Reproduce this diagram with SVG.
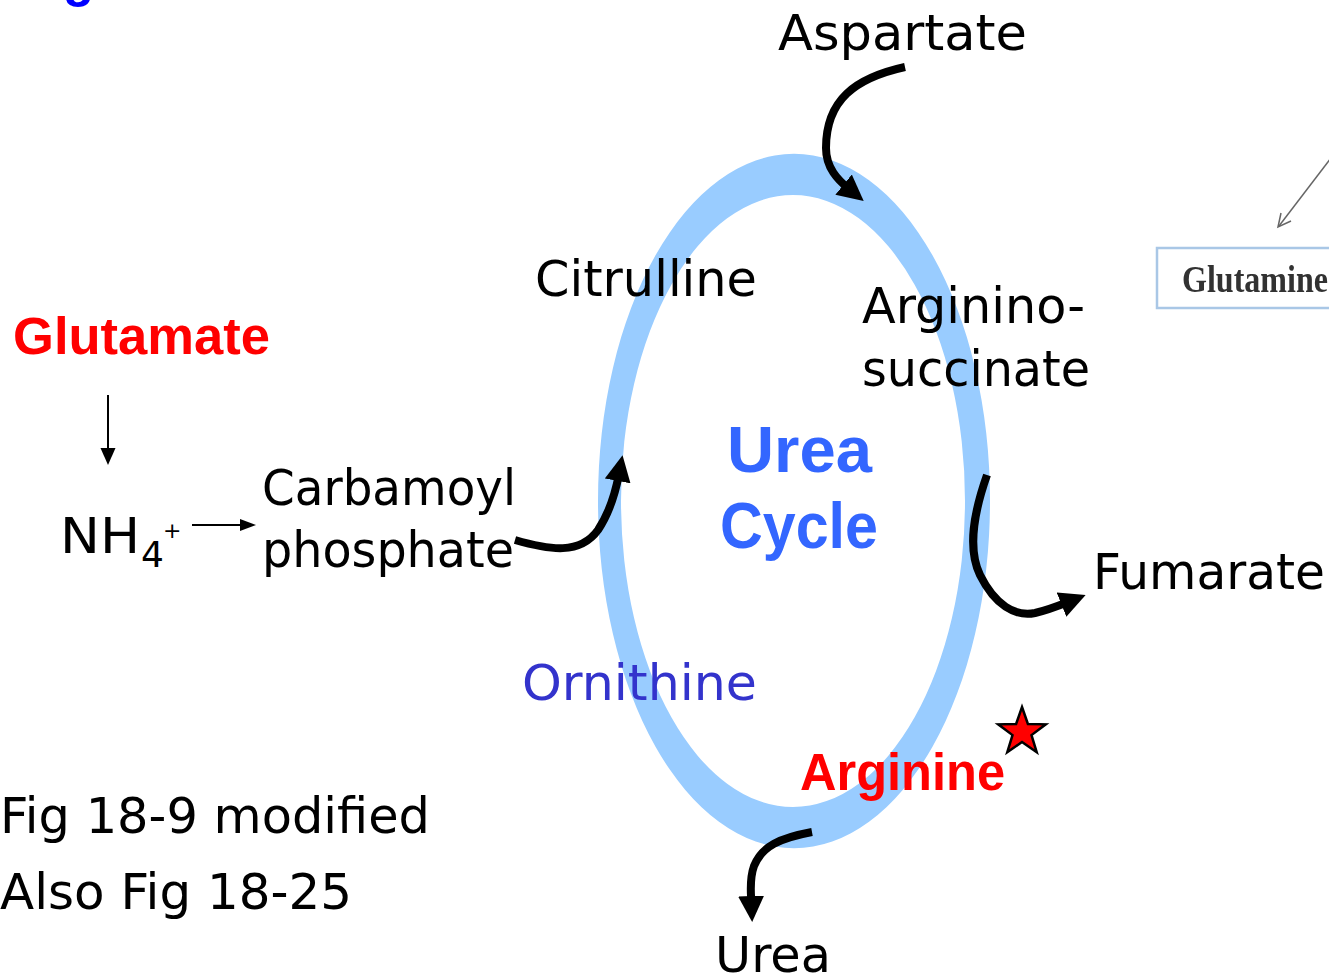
<svg xmlns="http://www.w3.org/2000/svg" width="1329" height="978" viewBox="0 0 1329 978">
  <style>
    .lbl { font-family: "DejaVu Sans", "Liberation Sans", sans-serif; font-size: 50px; fill: #000; }
    .bold { font-family: "Liberation Sans", "DejaVu Sans", sans-serif; font-weight: bold; font-size: 51px; }
    .red { fill: #ff0000; }
    .blue { fill: #3366ff; }
    .navy { fill: #3333cc; }
    .thick { fill: none; stroke: #000; stroke-width: 8; marker-end: url(#headBig); }
    .thin { fill: none; stroke: #000; stroke-width: 2; }
  </style>
  <defs>
    <marker id="headBig" viewBox="0 0 26 26" refX="7" refY="13" markerWidth="26" markerHeight="26" markerUnits="userSpaceOnUse" orient="auto">
      <path d="M0,0 L26,13 L0,26 z" fill="#000"/>
    </marker>
    <filter id="soft" x="-5%" y="-5%" width="110%" height="110%">
      <feGaussianBlur stdDeviation="0.6"/>
    </filter>
  </defs>

  <rect width="1329" height="978" fill="#fff"/>

  <!-- heading fragment along the top edge -->
  <text x="63" y="-4" class="bold" fill="#0000ff">g</text>

  <!-- urea cycle ring -->
  <g id="ring">
    <path fill="#99ccff" fill-rule="evenodd"
      d="M598,501 A196,347 0 1,0 990,501 A196,347 0 1,0 598,501 Z
         M621,501 A172,306 0 1,0 965,501 A172,306 0 1,0 621,501 Z"/>
  </g>

  <!-- connectors -->
  <g id="connectors">
    <path class="thick" d="M905,67 C855,78 826,100 826,148 C826,168 838,180 849,189"/>
    <path class="thick" d="M515,540 C550,550 580,555 598,530 C608,515 615,495 619,474"/>
    <path class="thick" d="M987,475 C974,512 967,548 980,575 C995,605 1015,617 1035,613 C1048,610 1058,606 1068,602"/>
    <path class="thick" d="M812,832 C780,838 762,846 754,866 C749,880 751,893 751.4,903"/>
    <line class="thin" x1="108" y1="395" x2="108" y2="450"/>
    <polygon points="100.5,448 115.5,448 108,465" fill="#000"/>
    <line class="thin" x1="192" y1="525" x2="242" y2="525"/>
    <polygon points="240,519 240,531 256,525" fill="#000"/>
  </g>

  <g id="aspartate"><text class="lbl" x="778" y="50" textLength="249" lengthAdjust="spacingAndGlyphs">Aspartate</text></g>
  <g id="citrulline"><text class="lbl" x="535" y="296" textLength="222" lengthAdjust="spacingAndGlyphs">Citrulline</text></g>
  <g id="argininosuccinate">
    <text class="lbl" x="862" y="323" textLength="223" lengthAdjust="spacingAndGlyphs">Arginino-</text>
    <text class="lbl" x="862" y="386" textLength="228" lengthAdjust="spacingAndGlyphs">succinate</text>
  </g>
  <g id="glutamate"><text class="bold red" x="13" y="354" textLength="257" lengthAdjust="spacingAndGlyphs">Glutamate</text></g>
  <g id="ammonium">
    <text class="lbl" x="60" y="553" textLength="80" lengthAdjust="spacingAndGlyphs">NH</text>
    <text class="lbl" x="141" y="567" style="font-size:36px">4</text>
    <text class="lbl" x="163" y="538" style="font-size:22px">+</text>
  </g>
  <g id="carbamoyl-phosphate">
    <text class="lbl" x="262" y="505" textLength="254" lengthAdjust="spacingAndGlyphs">Carbamoyl</text>
    <text class="lbl" x="262" y="567" textLength="252" lengthAdjust="spacingAndGlyphs">phosphate</text>
  </g>
  <g id="urea-cycle">
    <text class="bold blue" x="727" y="472" style="font-size:64px" textLength="145" lengthAdjust="spacingAndGlyphs">Urea</text>
    <text class="bold blue" x="720" y="548" style="font-size:64px" textLength="158" lengthAdjust="spacingAndGlyphs">Cycle</text>
  </g>
  <g id="fumarate"><text class="lbl" x="1093" y="589" textLength="232" lengthAdjust="spacingAndGlyphs">Fumarate</text></g>
  <g id="ornithine"><text class="lbl navy" x="522" y="700" textLength="235" lengthAdjust="spacingAndGlyphs">Ornithine</text></g>
  <g id="arginine"><text class="bold red" x="800" y="790" textLength="205" lengthAdjust="spacingAndGlyphs">Arginine</text></g>
  <g id="star">
    <polygon fill="#ff0000" stroke="#000" stroke-width="2.5" stroke-linejoin="miter"
      points="1022,707 1027.9,723.9 1045.8,724.3 1031.5,735.1 1036.7,752.2 1022,742 1007.3,752.2 1012.5,735.1 998.2,724.3 1016.1,723.9"/>
  </g>
  <g id="urea"><text class="lbl" x="715" y="972" textLength="116" lengthAdjust="spacingAndGlyphs">Urea</text></g>
  <g id="figure-note">
    <text class="lbl" x="0" y="833" textLength="430" lengthAdjust="spacingAndGlyphs">Fig 18-9 modified</text>
    <text class="lbl" x="0" y="909" textLength="352" lengthAdjust="spacingAndGlyphs">Also Fig 18-25</text>
  </g>

  <!-- glutamine inset -->
  <g id="glutamine" filter="url(#soft)">
    <line x1="1331" y1="158" x2="1279" y2="226" stroke="#666" stroke-width="1.5"/>
    <polyline points="1281,213 1278,227 1291,221" fill="none" stroke="#666" stroke-width="1.5"/>
    <rect x="1157" y="248" width="200" height="60" fill="#fff" stroke="#a9c7e6" stroke-width="2.5"/>
    <text x="1182" y="292" font-family="Liberation Serif, serif" font-weight="bold" font-size="37" fill="#333" textLength="146" lengthAdjust="spacingAndGlyphs">Glutamine</text>
  </g>
</svg>
